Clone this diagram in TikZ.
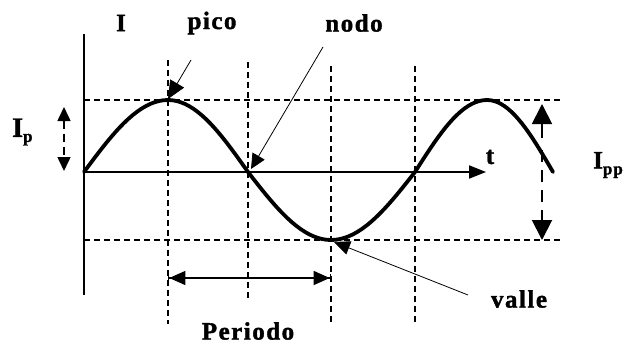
\documentclass[tikz,border=0pt]{standalone}
\usepackage{fontspec}
\setmainfont{Liberation Serif}[LetterSpace=6,BoldFeatures={FakeBold=1.5}]
\usetikzlibrary{arrows.meta}
\tikzset{
  axis/.style={line width=1.8pt},
  guide/.style={line width=1.3pt, dash pattern=on 6pt off 4pt},
  wave/.style={line width=3.8pt, line cap=round, line join=round},
  pointer/.style={line width=0.8pt, -{Triangle[length=18pt,width=16pt]}},
  lbl/.style={font=\fontsize{25}{28}\selectfont\bfseries, inner sep=0pt},
  tri/.tip={Triangle[length=14pt,width=13pt]},
  bigtri/.tip={Triangle[length=20pt,width=20pt]}
}
\begin{document}
\begin{tikzpicture}[x=1pt,y=-1pt]
\useasboundingbox (0,0) rectangle (627,345);
% guides
\draw[guide] (84,100) -- (560,100);
\draw[guide] (84,240) -- (560,240);
\draw[guide] (168,60) -- (168,324);
\draw[guide] (248,62) -- (248,300);
\draw[guide] (331,66) -- (331,324);
\draw[guide] (415,66) -- (415,324);
% axes
\coordinate (O) at (84,172);
\coordinate (ytop) at (84,34);
\coordinate (ybot) at (84,295);
\coordinate (xend) at (486,172);
\draw[axis] (ytop) -- (ybot);
\draw[axis,-{Triangle[length=17pt,width=13pt]}] (O) -- (xend);
% wave
\draw[wave] plot[domain=0:90,samples=20] ({84+84*\x/90},{172-72*sin(\x)})
  -- plot[domain=90:180,samples=20] ({168+80*(\x-90)/90},{172-72*sin(\x)})
  -- plot[domain=180:270,samples=20] ({248+83*(\x-180)/90},{172-68*sin(\x)})
  -- plot[domain=270:360,samples=20] ({331+84*(\x-270)/90},{172-68*sin(\x)})
  -- plot[domain=0:90,samples=20] ({415+72*\x/90},{172-72*sin(\x)})
  -- plot[domain=90:180,samples=20] ({487+66*(\x-90)/90},{172-72*sin(\x)});
% labels
\node[lbl] (I) at (121,23) {I};
\node[lbl] (pico) at (212,23) {pico};
\node[lbl] (nodo) at (354,23) {nodo};
\node[lbl] (t) at (490,157) {t};
\node[lbl] (valle) at (519,299) {valle};
\node[lbl] (periodo) at (248,331) {Periodo};
\node[lbl,anchor=west,font=\fontsize{28}{30}\selectfont\bfseries] (Ip) at (12,132) {I\raisebox{-5pt}{\fontsize{17}{18}\selectfont p}};
\node[lbl,anchor=west] (Ipp) at (593,165) {I\raisebox{-6pt}{\fontsize{17}{18}\selectfont pp}};
% pointers
\coordinate (picoS) at (191,60);
\coordinate (picoE) at (168,99);
\coordinate (nodoS) at (323,47);
\coordinate (nodoE) at (251,169);
\coordinate (valleS) at (468,295);
\coordinate (valleE) at (334,242);
\draw[pointer] (picoS) -- (picoE);
\draw[pointer,-{Triangle[length=15pt,width=14pt]}] (nodoS) -- (nodoE);
\draw[pointer,-{Triangle[length=16pt,width=14pt]}] (valleS) -- (valleE);
% Ip arrow
\coordinate (ipT) at (64,107);
\coordinate (ipB) at (64,171);
\draw[guide,line width=1.5pt,dash pattern=on 8pt off 5pt,{tri}-{tri}] (ipT) -- (ipB);
% Ipp arrow
\coordinate (ippT) at (542,104);
\coordinate (ippM) at (542,138);
\coordinate (ippD) at (542,150);
\coordinate (ippB) at (542,240);
\draw[line width=1.8pt,-{bigtri}] (ippM) -- (ippT);
\draw[line width=2pt,dash pattern=on 12pt off 8pt,-{bigtri}] (ippD) -- (ippB);
% period arrow
\coordinate (pL) at (168,278);
\coordinate (pR) at (331,278);
\draw[line width=1.3pt,{Bar[width=8pt]Triangle[length=16pt,width=14pt]}-{Triangle[length=16pt,width=14pt]Bar[width=8pt]}] (pL) -- (pR);
\end{tikzpicture}
\end{document}
